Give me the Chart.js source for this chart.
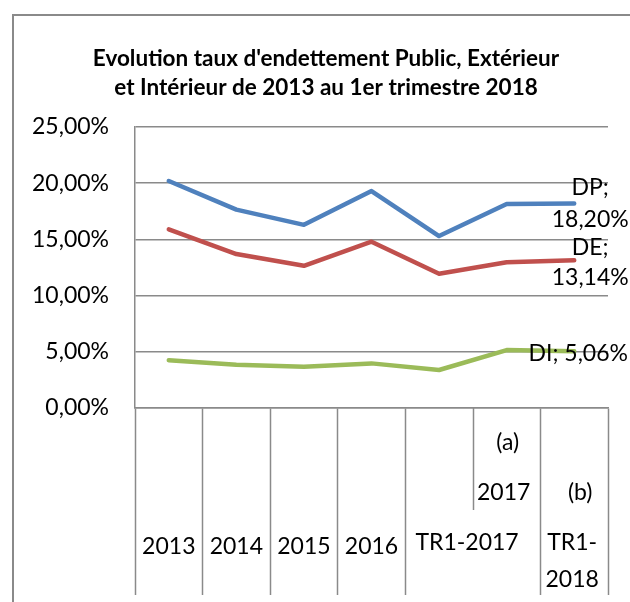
<!DOCTYPE html>
<html>
<head>
<meta charset="utf-8">
<script src="https://cdn.jsdelivr.net/npm/chart.js@4"></script>
<style>
  html, body { margin: 0; padding: 0; background: #fff; }
  #wrap { width: 630px; height: 602px; position: relative; }
</style>
</head>
<body>
<div id="wrap"><canvas id="chart"></canvas></div>
<script>
const categories = ['2013', '2014', '2015', '2016', 'TR1-2017', '2017 (a)', 'TR1-2018 (b)'];
const tickLines = [['2013'], ['2014'], ['2015'], ['2016'], ['TR1-2017'], ['(a)', '2017'], ['(b)', 'TR1-', '2018']];

const dpValues = [20.2, 17.65, 16.3, 19.3, 15.3, 18.15, 18.20];
const deValues = [15.9, 13.7, 12.65, 14.8, 11.95, 12.97, 13.14];
const diValues = [4.25, 3.85, 3.68, 3.97, 3.38, 5.15, 5.06];

const seriesNames = ['DP', 'DE', 'DI'];
const endLabels = [['DP;', '18,20%'], ['DE;', '13,14%'], ['DI; 5,06%']];

const GRID = '#8a8a8a';
const FONT = 'Lato, "Open Sans", sans-serif';

function fmtPct(v) {
  return v.toFixed(2).replace('.', ',') + '%';
}

// where each line of the category labels sits, relative to the category centre / axis line
const tickLayout = [
  [[0, 139]], [[0, 139]], [[0, 139]], [[0, 139]],
  [[28, 135]],
  [[1, 35], [-3, 85]],
  [[6, 85], [-2, 135], [-2, 172]],
];
// offsets of the end-of-line labels from the last point
const endLayout = [
  [[16, -16], [16, 16]],
  [[16, -13], [16, 17]],
  [[4, 2]],
];

const extras = {
  id: 'extras',
  afterLayout(chart) {
    // centre the title over the whole frame, not just the padded box
    if (chart.titleBlock) {
      chart.titleBlock.left = 22;
      chart.titleBlock.right = chart.width;
    }
  },
  beforeDraw(chart) {
    const c = chart.ctx;
    c.save();
    c.strokeStyle = GRID;
    c.lineWidth = 2;
    c.beginPath();
    c.moveTo(13, chart.height);
    c.lineTo(13, 15);
    c.lineTo(chart.width, 15);
    c.stroke();
    c.restore();
  },
  afterDraw(chart) {
    const c = chart.ctx;
    const x = chart.scales.x;
    const top = chart.chartArea.bottom;
    c.save();
    // short separator between TR1-2017 and 2017
    const sx = Math.round((x.getPixelForValue(4) + x.getPixelForValue(5)) / 2) + 0.5;
    c.strokeStyle = GRID;
    c.lineWidth = 1.5;
    c.beginPath();
    c.moveTo(sx, top);
    c.lineTo(sx, top + 102);
    c.stroke();

    c.fillStyle = '#000';
    c.font = '23px ' + FONT;
    c.textAlign = 'center';
    c.textBaseline = 'middle';
    tickLines.forEach((lines, i) => {
      const cx = x.getPixelForValue(i);
      lines.forEach((t, j) => {
        const [dx, dy] = tickLayout[i][j];
        c.fillText(t, cx + dx, top + dy);
      });
    });

    chart.data.datasets.forEach((ds, di) => {
      const meta = chart.getDatasetMeta(di);
      const pt = meta.data[meta.data.length - 1];
      endLabels[di].forEach((t, j) => {
        const [dx, dy] = endLayout[di][j];
        c.fillText(t, pt.x + dx, pt.y + dy);
      });
    });
    c.restore();
  }
};

new Chart(document.getElementById('chart'), {
  type: 'line',
  data: {
    labels: categories,
    datasets: [
      { label: seriesNames[0], data: dpValues, borderColor: '#4f81bd' },
      { label: seriesNames[1], data: deValues, borderColor: '#c0504d' },
      { label: seriesNames[2], data: diValues, borderColor: '#9bbb59' },
    ].map(d => Object.assign(d, {
      borderWidth: 4.5, pointRadius: 0, tension: 0,
      borderJoinStyle: 'round', borderCapStyle: 'round', fill: false,
    })),
  },
  options: {
    responsive: true,
    maintainAspectRatio: false,
    animation: false,
    events: [],
    layout: { padding: { left: 0, right: 22, top: 0, bottom: 0 } },
    plugins: {
      legend: { display: false },
      tooltip: { enabled: false },
      title: {
        display: true,
        text: ["Evolution taux d'endettement Public, Extérieur", 'et Intérieur de 2013 au 1er trimestre 2018'],
        color: '#000',
        font: { family: FONT, size: 22.5, weight: 'bold', lineHeight: 1.29 },
        padding: { top: 44, bottom: 25 },
      },
    },
    scales: {
      x: {
        offset: true,
        ticks: { display: false },
        grid: {
          offset: true,
          drawOnChartArea: false,
          drawTicks: true,
          tickLength: 187,
          tickWidth: 1.5,
          tickColor: (ctx) => ctx.index === 5 ? 'rgba(0,0,0,0)' : GRID,
        },
        border: { display: true, color: GRID, width: 1.5 },
        afterFit: (s) => { s.height = 194; },
      },
      y: {
        min: 0,
        max: 25,
        ticks: {
          stepSize: 5,
          padding: 26,
          color: '#000',
          font: { family: FONT, size: 23 },
          callback: (v) => fmtPct(v),
        },
        grid: { color: GRID, lineWidth: 1.5, drawTicks: false },
        border: { display: true, color: GRID, width: 1.5 },
        afterFit: (s) => { s.width = 135; },
      },
    },
  },
  plugins: [extras],
});
</script>
</body>
</html>
